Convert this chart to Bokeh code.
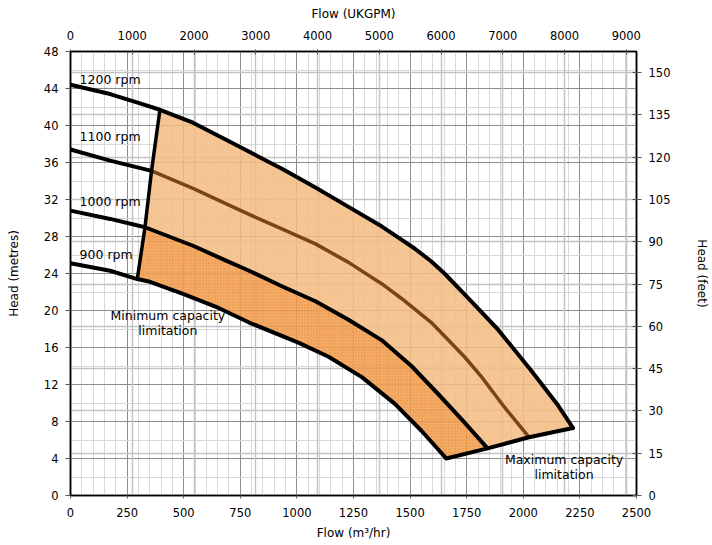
from bokeh.plotting import figure
from bokeh.models import Range1d, LinearAxis, SingleIntervalTicker, Grid
from bokeh.core.properties import value
from bokeh.embed import file_html
from bokeh.resources import INLINE

# ---- data (flow m3/hr, head m) ----
q1200 = [0, 175, 307, 395, 541, 700, 833, 936, 1082, 1228, 1374, 1447, 1520, 1594, 1652, 1762, 1886, 2032, 2149, 2219]
h1200 = [44.4, 43.4, 42.4, 41.7, 40.3, 38.3, 36.6, 35.3, 33.3, 31.2, 29.1, 27.9, 26.7, 25.3, 24.0, 21.2, 18.0, 13.6, 9.9, 7.3]

q1100 = [0, 175, 358, 541, 700, 833, 936, 1082, 1228, 1374, 1462, 1594, 1740, 1813, 1915, 2025]
h1100 = [37.4, 36.2, 35.1, 33.2, 31.4, 29.9, 28.8, 27.2, 25.2, 22.9, 21.3, 18.7, 15.0, 12.9, 9.6, 6.3]

q1000 = [0, 175, 329, 541, 687, 789, 936, 1082, 1228, 1374, 1506, 1623, 1740, 1842]
h1000 = [30.8, 29.9, 29.0, 27.0, 25.4, 24.3, 22.6, 21.0, 19.0, 16.8, 14.0, 11.0, 7.9, 5.1]

q900 = [0, 175, 295, 351, 497, 643, 789, 1009, 1140, 1287, 1433, 1550, 1660]
h900 = [25.1, 24.3, 23.4, 23.1, 21.8, 20.4, 18.7, 16.5, 15.0, 12.8, 9.9, 7.0, 4.0]

min_q = [295, 329, 358, 395]
min_h = [23.4, 29.0, 35.1, 41.7]
max_q = [1660, 1842, 2025, 2219]
max_h = [4.0, 5.1, 6.3, 7.3]

rpm_labels = ["1200 rpm", "1100 rpm", "1000 rpm", "900 rpm"]
rpm_label_q = [40, 40, 40, 40]
rpm_label_h = [45.0, 38.8, 31.8, 26.1]

note_texts = ["Minimum capacity", "limitation", "Maximum capacity", "limitation"]
note_q = [430, 430, 2180, 2180]
note_h = [19.5, 17.8, 3.9, 2.3]

M3H_TO_UKGPM = 3.66615
M_TO_FT = 3.28084

FONT = "DejaVu Sans"

p = figure(width=712, height=545, output_backend="svg", toolbar_location=None,
           x_range=Range1d(0, 2500), y_range=Range1d(0, 48),
           min_border_left=70, min_border_right=72, min_border_top=51, min_border_bottom=50)
p.outline_line_color = "black"
p.outline_line_width = 1.5

bottom = p.below[0]
left = p.left[0]

xt = SingleIntervalTicker(interval=250, num_minor_ticks=5)
yt = SingleIntervalTicker(interval=4, num_minor_ticks=2)
bottom.ticker = xt
left.ticker = yt
p.xgrid.ticker = xt
p.ygrid.ticker = yt
for g in (p.xgrid, p.ygrid):
    g.grid_line_color = "#8c8c8c"
    g.grid_line_width = 1
    g.minor_grid_line_color = "#d8d8d8"
    g.minor_grid_line_width = 1

# secondary axes
p.extra_x_ranges = {"gpm": Range1d(0, 2500 * M3H_TO_UKGPM)}
p.extra_y_ranges = {"ft": Range1d(0, 48 * M_TO_FT)}
gt = SingleIntervalTicker(interval=1000, num_minor_ticks=0)
ft = SingleIntervalTicker(interval=15, num_minor_ticks=0)
top = LinearAxis(x_range_name="gpm", ticker=gt, axis_label="Flow (UKGPM)")
right = LinearAxis(y_range_name="ft", ticker=ft, axis_label="Head (feet)")
p.add_layout(top, "above")
p.add_layout(right, "right")
p.add_layout(Grid(dimension=0, ticker=gt, x_range_name="gpm", grid_line_color="#c4c4c4", grid_line_width=1.5))
p.add_layout(Grid(dimension=1, ticker=ft, y_range_name="ft", grid_line_color="#c4c4c4", grid_line_width=1.5))

bottom.axis_label = "Flow (m³/hr)"
left.axis_label = "Head (metres)"

for ax in [bottom, left, top, right]:
    ax.major_label_text_font = FONT
    ax.major_label_text_font_size = "11.5px"
    ax.major_label_text_color = "black"
    ax.axis_label_text_font = FONT
    ax.axis_label_text_font_size = "12px"
    ax.axis_label_text_font_style = "normal"
    ax.axis_label_text_color = "black"
    ax.minor_tick_line_color = None
    ax.axis_line_color = "black"
    ax.axis_line_width = 1.5
    ax.major_tick_line_color = "#555555"

bottom.major_tick_out = 3
bottom.major_tick_in = 0
bottom.major_label_standoff = 8
bottom.axis_label_standoff = 6
left.major_tick_out = 5
left.major_tick_in = 0
left.major_label_standoff = 7
left.axis_label_standoff = 20
top.major_tick_out = 2
top.major_tick_in = 3
top.major_label_standoff = 10
top.axis_label_standoff = 7
right.major_tick_out = 5
right.major_tick_in = 4
right.major_label_standoff = 7
right.axis_label_standoff = 22

# ---- shaded regions built from the curves ----
def after(qs, hs, q0):
    return [(q, h) for q, h in zip(qs, hs) if q >= q0]

c1200 = after(q1200, h1200, min_q[3])
c1000 = after(q1000, h1000, min_q[1])
c900 = after(q900, h900, min_q[0])
mx_hi = [(q, h) for q, h in zip(max_q, max_h) if q >= max_q[1]]
mx_lo = [(q, h) for q, h in zip(max_q, max_h) if q <= max_q[1]]
mn_hi = [(q, h) for q, h in zip(min_q, min_h) if q >= min_q[1]]
mn_lo = [(q, h) for q, h in zip(min_q, min_h) if q <= min_q[1]]

light = c1200 + mx_hi[::-1] + c1000[::-1] + mn_hi
dark = c1000 + mx_lo[::-1] + c900[::-1] + mn_lo

p.patch([a for a, b in light], [b for a, b in light], fill_color="#F3BC82", fill_alpha=0.86, line_color=None)
p.patch([a for a, b in dark], [b for a, b in dark], fill_color="#F19E50", fill_alpha=0.86, line_color=None,
        hatch_pattern="dot", hatch_color="#E8780E", hatch_alpha=0.5, hatch_scale=3, hatch_weight=1)

# ---- curves ----
LW = 4
p.line(q1200, h1200, line_color="black", line_width=LW, line_join="round", line_cap="round")
q11l = [q for q in q1100 if q <= min_q[2]]
h11l = [h for q, h in zip(q1100, h1100) if q <= min_q[2]]
q11r = [q for q in q1100 if q >= min_q[2]]
h11r = [h for q, h in zip(q1100, h1100) if q >= min_q[2]]
p.line(q11l, h11l, line_color="black", line_width=LW, line_join="round")
p.line(q11r, h11r, line_color="#7A4512", line_width=3.5, line_join="round")
p.line(q1000, h1000, line_color="black", line_width=LW, line_join="round")
p.line(q900, h900, line_color="black", line_width=LW, line_join="round")
p.line(min_q, min_h, line_color="black", line_width=3.5, line_join="round")
p.line(max_q, max_h, line_color="black", line_width=LW, line_join="round", line_cap="round")

# ---- labels ----
p.text(x=rpm_label_q, y=rpm_label_h, text=rpm_labels, text_font=value(FONT), text_font_size="12.5px",
       text_align="left", text_baseline="middle", text_color="black")
p.text(x=note_q, y=note_h, text=note_texts, text_font=value(FONT), text_font_size="12.5px",
       text_align="center", text_baseline="middle", text_color="black")

open("out.html", "w").write(file_html(p, INLINE))
